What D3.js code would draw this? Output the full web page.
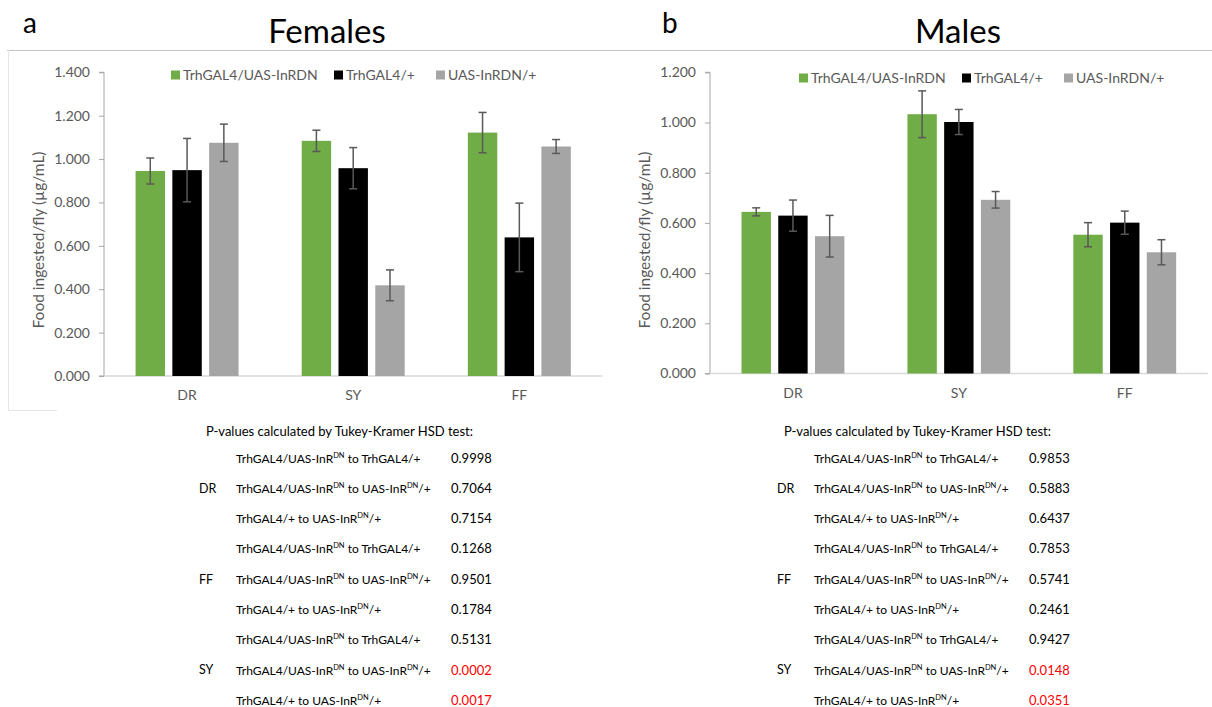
<!DOCTYPE html>
<html>
<head>
<meta charset="utf-8">
<script src="https://cdn.jsdelivr.net/npm/d3@7"></script>
<style>
  html, body { margin: 0; padding: 0; background: #fff; }
  svg { display: block; font-family: Lato, "Open Sans", sans-serif; }
</style>
</head>
<body>
<svg id="fig" width="1212" height="707"></svg>
<script>
// ---- data ----
const categories = ["DR", "SY", "FF"];
const genotypes = ["TrhGAL4/UAS-InRDN", "TrhGAL4/+", "UAS-InRDN/+"];
const genotypeColors = ["#70ad47", "#000000", "#a5a5a5"];

// Females: mean food ingested per fly (µg/mL) and error, per genotype, order DR, SY, FF
const femTrhInR = [0.945, 1.084, 1.122];
const femTrh    = [0.949, 0.958, 0.639];
const femInR    = [1.075, 0.418, 1.058];
const femTrhInRErr = [0.060, 0.049, 0.093];
const femTrhErr    = [0.146, 0.095, 0.158];
const femInRErr    = [0.086, 0.071, 0.032];

// Males
const malTrhInR = [0.644, 1.033, 0.553];
const malTrh    = [0.629, 1.002, 0.601];
const malInR    = [0.547, 0.692, 0.483];
const malTrhInRErr = [0.016, 0.093, 0.048];
const malTrhErr    = [0.062, 0.050, 0.046];
const malInRErr    = [0.083, 0.033, 0.050];

const femYTicks = [0, 0.2, 0.4, 0.6, 0.8, 1.0, 1.2, 1.4];
const malYTicks = [0, 0.2, 0.4, 0.6, 0.8, 1.0, 1.2];

// Tukey-Kramer HSD p-values table
const testGroups = ["DR", "FF", "SY"];
const comparisons = [
  "TrhGAL4/UAS-InR{DN} to TrhGAL4/+",
  "TrhGAL4/UAS-InR{DN} to UAS-InR{DN}/+",
  "TrhGAL4/+ to UAS-InR{DN}/+"
];
const femPValues = ["0.9998", "0.7064", "0.7154", "0.1268", "0.9501", "0.1784", "0.5131", "0.0002", "0.0017"];
const malPValues = ["0.9853", "0.5883", "0.6437", "0.7853", "0.5741", "0.2461", "0.9427", "0.0148", "0.0351"];

// ---- drawing ----
const svg = d3.select("#fig");
const axisGrey = "#595959";

// frame lines of the chart areas
svg.append("line").attr("x1", 7).attr("x2", 1212).attr("y1", 50.5).attr("y2", 50.5)
  .attr("stroke", "#c4c4c4").attr("stroke-width", 1);
svg.append("path").attr("d", "M8.5,50 V410.5 H57").attr("fill", "none")
  .attr("stroke", "#e6e6e6").attr("stroke-width", 1);

function panel(opts) {
  const g = svg.append("g");
  const y = d3.scaleLinear().domain(opts.yDomain).range([opts.yBottom, opts.yTop]);
  const x0 = d3.scaleBand().domain(categories).range([opts.xLeft, opts.xRight]);
  const groupW = x0.bandwidth() * 0.62;
  const x1 = d3.scaleBand().domain(d3.range(genotypes.length)).range([0, groupW]).paddingInner(0.2);

  // panel letter and title
  g.append("text").attr("x", opts.letterX).attr("y", 33).attr("font-size", 28)
    .attr("fill", "#000").text(opts.letter);
  g.append("text").attr("x", opts.titleX).attr("y", 43).attr("text-anchor", "middle")
    .attr("font-size", 33).attr("fill", "#000").text(opts.title);

  // y axis
  const yAxis = d3.axisLeft(y).tickValues(opts.yTicks).tickFormat(d3.format(".3f"))
    .tickSize(5).tickPadding(9);
  const ya = g.append("g").attr("transform", `translate(${opts.xLeft},0)`).call(yAxis);
  ya.select(".domain").attr("stroke", "#a6a6a6").attr("d", `M-5,${y(opts.yDomain[1])}H0V${y(0)}H-5`);
  ya.selectAll(".tick line").attr("stroke", "#a6a6a6");
  ya.selectAll(".tick text").attr("fill", axisGrey).attr("font-size", 14)
    .attr("font-family", "Lato, sans-serif");

  // x baseline
  g.append("line").attr("x1", opts.xLeft).attr("x2", opts.xRight)
    .attr("y1", y(0)).attr("y2", y(0)).attr("stroke", "#d9d9d9").attr("stroke-width", 1.3);

  // category labels
  g.selectAll(".cat").data(categories).join("text")
    .attr("x", d => x0(d) + x0.bandwidth() / 2).attr("y", y(0) + 24)
    .attr("text-anchor", "middle").attr("font-size", 14).attr("fill", axisGrey).text(d => d);

  // y axis title
  g.append("text")
    .attr("transform", `translate(${opts.yTitleX},${opts.yTitleY}) rotate(-90)`)
    .attr("text-anchor", "middle").attr("font-size", 15.5).attr("fill", axisGrey)
    .text("Food ingested/fly (µg/mL)");

  // bars
  const rows = [];
  categories.forEach((c, ci) => {
    opts.means.forEach((arr, si) => {
      rows.push({ cat: c, s: si, v: arr[ci], e: opts.errs[si][ci] });
    });
  });
  const gx = d => x0(d.cat) + (x0.bandwidth() - groupW) / 2 + x1(d.s);
  g.selectAll(".bar").data(rows).join("rect")
    .attr("x", gx).attr("y", d => y(d.v))
    .attr("width", x1.bandwidth()).attr("height", d => y(0) - y(d.v))
    .attr("fill", d => genotypeColors[d.s]);

  // error bars
  const eb = g.selectAll(".err").data(rows).join("g")
    .attr("stroke", "#595959").attr("stroke-width", 1.5);
  eb.append("line")
    .attr("x1", d => gx(d) + x1.bandwidth() / 2).attr("x2", d => gx(d) + x1.bandwidth() / 2)
    .attr("y1", d => y(d.v + d.e)).attr("y2", d => y(d.v - d.e));
  [1, -1].forEach(sign => {
    eb.append("line")
      .attr("x1", d => gx(d) + x1.bandwidth() / 2 - 4).attr("x2", d => gx(d) + x1.bandwidth() / 2 + 4)
      .attr("y1", d => y(d.v + sign * d.e)).attr("y2", d => y(d.v + sign * d.e));
  });

  // legend
  const lg = g.append("g").attr("transform", `translate(0,${opts.legendY})`);
  genotypes.forEach((name, i) => {
    const lx = opts.legendX[i];
    lg.append("rect").attr("x", lx).attr("y", -4.5).attr("width", 9).attr("height", 9)
      .attr("fill", genotypeColors[i]);
    lg.append("text").attr("x", lx + 12).attr("y", 0).attr("dy", "0.35em")
      .attr("font-size", 14).attr("fill", axisGrey).text(name);
  });

  // p-value table
  const tb = g.append("g");
  tb.append("text").attr("x", opts.tableX).attr("y", 431).attr("dy", "0.35em")
    .attr("font-size", 13).attr("fill", "#000")
    .text("P-values calculated by Tukey-Kramer HSD test:");
  opts.pValues.forEach((p, i) => {
    const ry = 458 + i * 30.3;
    const gi = Math.floor(i / 3);
    if (i % 3 === 1) {
      tb.append("text").attr("x", opts.tableX - 7).attr("y", ry).attr("dy", "0.35em")
        .attr("font-size", 12.5).attr("fill", "#000").text(testGroups[gi]);
    }
    const t = tb.append("text").attr("x", opts.tableX + 30).attr("y", ry + 4.5)
      .attr("font-size", 12).attr("fill", "#000");
    const parts = comparisons[i % 3].split(/(\{[^}]+\})/).filter(s => s.length);
    let lift = 0;
    parts.forEach(s => {
      if (s.startsWith("{")) {
        t.append("tspan").attr("font-size", 7.5).attr("dy", -5).text(s.slice(1, -1));
        lift = 5;
      } else {
        t.append("tspan").attr("dy", lift).text(s);
        lift = 0;
      }
    });
    tb.append("text").attr("x", opts.tableX + 245).attr("y", ry).attr("dy", "0.35em")
      .attr("font-size", 13).attr("fill", +p < 0.05 ? "#ff0000" : "#000").text(p);
  });
}

panel({
  letter: "a", letterX: 23, title: "Females", titleX: 327,
  xLeft: 104, xRight: 602.4, yTop: 72.3, yBottom: 376, yDomain: [0, 1.4], yTicks: femYTicks,
  yTitleX: 44, yTitleY: 240,
  means: [femTrhInR, femTrh, femInR], errs: [femTrhInRErr, femTrhErr, femInRErr],
  legendY: 75, legendX: [171, 334, 436],
  tableX: 206, pValues: femPValues
});

panel({
  letter: "b", letterX: 662, title: "Males", titleX: 958,
  xLeft: 710, xRight: 1207.7, yTop: 72.3, yBottom: 373.5, yDomain: [0, 1.2], yTicks: malYTicks,
  yTitleX: 650, yTitleY: 240,
  means: [malTrhInR, malTrh, malInR], errs: [malTrhInRErr, malTrhErr, malInRErr],
  legendY: 78, legendX: [799, 962, 1064],
  tableX: 784, pValues: malPValues
});
</script>
</body>
</html>
